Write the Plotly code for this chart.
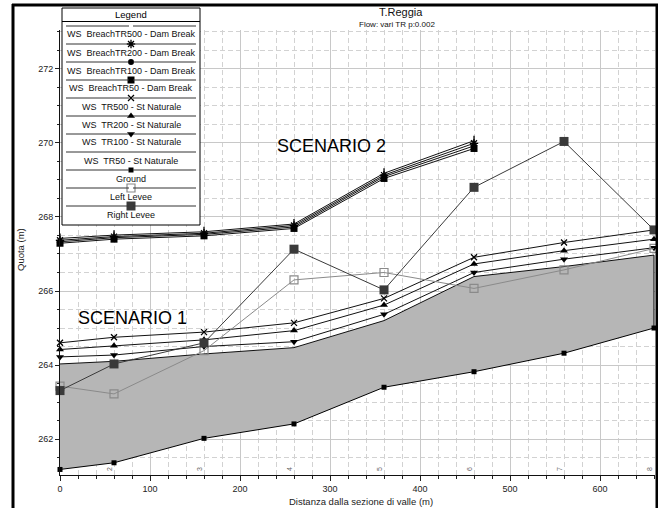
import plotly.graph_objects as go

# ---------------- data ----------------
stations = [0, 60, 160, 260, 360, 460, 560, 660]
section_labels = ["1", "2", "3", "4", "5", "6", "7", "8"]
ground = [261.18, 261.36, 262.02, 262.41, 263.40, 263.82, 264.32, 265.00]
ws_tr50 = [264.03, 264.10, 264.30, 264.47, 265.20, 266.39, 266.66, 266.97]
ws_tr100 = [264.22, 264.27, 264.50, 264.63, 265.37, 266.50, 266.86, 267.17]
ws_tr200 = [264.42, 264.52, 264.68, 264.93, 265.62, 266.73, 267.09, 267.40]
ws_tr500 = [264.60, 264.75, 264.89, 265.14, 265.80, 266.91, 267.31, 267.65]
breach_stations = [0, 60, 160, 260, 360, 460]
breach_tr50 = [267.29, 267.40, 267.49, 267.69, 269.04, 269.85]
breach_tr100 = [267.33, 267.44, 267.53, 267.73, 269.09, 269.92]
breach_tr200 = [267.37, 267.47, 267.56, 267.77, 269.13, 269.99]
breach_tr500 = [267.42, 267.51, 267.60, 267.81, 269.18, 270.06]
left_levee = [263.43, 263.22, 264.39, 266.30, 266.50, 266.07, 266.57, 267.15]
right_levee = [263.31, 264.03, 264.60, 267.13, 266.03, 268.80, 270.04, 267.65]

x_ticks = [0, 100, 200, 300, 400, 500, 600]
y_ticks = [262, 264, 266, 268, 270, 272]

title = "T.Reggia"
subtitle = "Flow: vari TR p:0.002"
x_title = "Distanza dalla sezione di valle (m)"
y_title = "Quota (m)"
legend_title = "Legend"

# ---------------- layout geometry ----------------
W, H = 658, 508
L, R, T, B = 60, 3, 30, 33
X_RANGE = [0, 661.1]
Y_RANGE = [261.03, 273.05]
FONT = "Arial, Liberation Sans, sans-serif"


def px(x):
    return (x - L) / (W - L - R)


def py(y):
    return (H - B - y) / (H - T - B)


def dx(xp):  # pixel -> data x
    return X_RANGE[0] + (xp - L) / (W - L - R) * (X_RANGE[1] - X_RANGE[0])


def dy(yp):  # pixel -> data y
    return Y_RANGE[0] + (H - B - yp) / (H - T - B) * (Y_RANGE[1] - Y_RANGE[0])


BLACK = "#000000"
LINE_W = 1

series = [
    # name, x, y, symbol, size, marker color, marker line, line color
    ("WS  BreachTR500 - Dam Break", breach_stations, breach_tr500, "line-ns", 7, BLACK, 1.3, "#111111"),
    ("WS  BreachTR200 - Dam Break", breach_stations, breach_tr200, "asterisk", 7, BLACK, 1.3, "#111111"),
    ("WS  BreachTR100 - Dam Break", breach_stations, breach_tr100, "circle", 6, BLACK, 0, "#111111"),
    ("WS  BreachTR50 - Dam Break", breach_stations, breach_tr50, "square", 7, BLACK, 0, "#111111"),
    ("WS  TR500 - St Naturale", stations, ws_tr500, "x-thin", 6, BLACK, 1.3, "#111111"),
    ("WS  TR200 - St Naturale", stations, ws_tr200, "triangle-up", 7, BLACK, 0, "#111111"),
    ("WS  TR100 - St Naturale", stations, ws_tr100, "triangle-down", 7, BLACK, 0, "#111111"),
    ("WS  TR50 - St Naturale", stations, ws_tr50, None, 0, BLACK, 0, "#111111"),
    ("Ground", stations, ground, "square", 5, BLACK, 0, BLACK),
    ("Left Levee", stations, left_levee, "square-open", 8, "#8a8a8a", 1.2, "#8a8a8a"),
    ("Right Levee", stations, right_levee, "square", 9, "#3a3a3a", 0, "#3a3a3a"),
]

fig = go.Figure()

# base for water fill (ground) then TR50 filled to it
fig.add_trace(go.Scatter(x=stations, y=ground, mode="lines", line=dict(width=0),
                         hoverinfo="skip", showlegend=False))
fig.add_trace(go.Scatter(x=stations, y=ws_tr50, mode="lines", fill="tonexty",
                         fillcolor="#b6b6b6", line=dict(width=0),
                         hoverinfo="skip", showlegend=False))

draw_order = [7, 6, 5, 4, 9, 10, 8, 3, 2, 1, 0]
for i in draw_order:
    name, xs, ys, sym, size, mcol, mlw, lcol = series[i]
    if sym is None:
        fig.add_trace(go.Scatter(x=xs, y=ys, mode="lines", name=name,
                                 line=dict(color=lcol, width=LINE_W), showlegend=False))
    else:
        fig.add_trace(go.Scatter(
            x=xs, y=ys, mode="lines+markers", name=name,
            line=dict(color=lcol, width=LINE_W),
            marker=dict(symbol=sym, size=size, color=mcol,
                        line=dict(color=mcol, width=mlw)),
            cliponaxis=False, showlegend=False))

# ---------------- legend (drawn manually) ----------------
LEG_X0, LEG_X1 = 62, 200
LEG_Y0, LEG_Y1 = 8, 225
LEG_CX = (LEG_X0 + LEG_X1) / 2
LINE_X0, LINE_X1 = 66, 196
first_line, step, text_off = 26, 18, 8.5

shapes = []
annotations = []

# white background for legend region inside plot (above grid, below traces)
shapes.append(dict(type="rect", xref="x", yref="y", x0=dx(LEG_X0), x1=dx(LEG_X1),
                   y0=dy(LEG_Y1), y1=dy(LEG_Y0), fillcolor="white",
                   line=dict(width=0), layer="between"))
# legend border
shapes.append(dict(type="rect", xref="paper", yref="paper", x0=px(LEG_X0), x1=px(LEG_X1),
                   y0=py(LEG_Y1), y1=py(LEG_Y0), line=dict(color=BLACK, width=1),
                   fillcolor="rgba(0,0,0,0)", layer="above"))
shapes.append(dict(type="line", xref="paper", yref="paper", x0=px(LEG_X0), x1=px(LEG_X1),
                   y0=py(21.5), y1=py(21.5), line=dict(color=BLACK, width=1), layer="above"))
annotations.append(dict(text=legend_title, xref="paper", yref="paper", x=px(LEG_CX), y=py(14.5),
                        xanchor="center", yanchor="middle", showarrow=False,
                        font=dict(size=9.5, color=BLACK, family=FONT)))

for k, (name, xs, ys, sym, size, mcol, mlw, lcol) in enumerate(series):
    ly = first_line + k * step
    gap = 0 if sym is None else 2
    segs = [(LINE_X0, LINE_X1)] if sym is None else [(LINE_X0, LEG_CX - gap), (LEG_CX + gap, LINE_X1)]
    for a, b in segs:
        shapes.append(dict(type="line", xref="paper", yref="paper", x0=px(a), x1=px(b),
                           y0=py(ly), y1=py(ly), line=dict(color="#333333", width=1),
                           layer="above"))
    if sym is not None:
        fig.add_trace(go.Scatter(
            x=[LEG_CX], y=[ly], xaxis="x2", yaxis="y2", mode="markers",
            marker=dict(symbol=sym, size=size, color=mcol, line=dict(color=mcol, width=mlw)),
            cliponaxis=False, hoverinfo="skip", showlegend=False))
    annotations.append(dict(text=name, xref="paper", yref="paper", x=px(LEG_CX), y=py(ly + text_off),
                            xanchor="center", yanchor="middle", showarrow=False,
                            font=dict(size=9, color="#111111", family=FONT)))

# right edge of water area
shapes.append(dict(type="line", xref="x", yref="y", x0=stations[-1], x1=stations[-1],
                   y0=ground[-1], y1=ws_tr50[-1], line=dict(color=BLACK, width=1), layer="above"))

# outer frame
for (x0, y0, x1, y1) in [(13, 4, 13, H + 2), (12, 5, 658, 5), (657, 4, 657, H + 2)]:
    shapes.append(dict(type="line", xref="paper", yref="paper", x0=px(x0), x1=px(x1),
                       y0=py(y0), y1=py(y1), line=dict(color=BLACK, width=3), layer="above"))

# titles
annotations.append(dict(text=title, xref="paper", yref="paper", x=px(401), y=py(12),
                        xanchor="center", yanchor="middle", showarrow=False,
                        font=dict(size=11, color="#111111", family=FONT)))
annotations.append(dict(text=subtitle, xref="paper", yref="paper", x=px(397), y=py(24.5),
                        xanchor="center", yanchor="middle", showarrow=False,
                        font=dict(size=8, color="#111111", family=FONT)))
annotations.append(dict(text=x_title, xref="paper", yref="paper", x=px(361), y=py(501),
                        xanchor="center", yanchor="middle", showarrow=False,
                        font=dict(size=9.5, color="#222222", family=FONT)))
annotations.append(dict(text=y_title, xref="paper", yref="paper", x=px(20), y=py(250),
                        xanchor="center", yanchor="middle", showarrow=False, textangle=-90,
                        font=dict(size=9.5, color="#222222", family=FONT)))
annotations.append(dict(text="SCENARIO 1", xref="paper", yref="paper", x=px(132), y=py(318),
                        xanchor="center", yanchor="middle", showarrow=False,
                        font=dict(size=18, color=BLACK, family=FONT)))
annotations.append(dict(text="SCENARIO 2", xref="paper", yref="paper", x=px(331), y=py(146),
                        xanchor="center", yanchor="middle", showarrow=False,
                        font=dict(size=18, color=BLACK, family=FONT)))

# section numbers along the bottom
for s, lab in zip(stations[1:], section_labels[1:]):
    annotations.append(dict(text=lab, xref="x", yref="paper", x=s, y=0, xshift=-5, yshift=2,
                            xanchor="center", yanchor="bottom", showarrow=False, textangle=-90,
                            font=dict(size=7, color="#666666", family=FONT)))

grid_major = "#c8c8c8"
grid_minor = "#d2d2d2"

fig.update_layout(
    width=W, height=H,
    margin=dict(l=L, r=R, t=T, b=B, pad=0),
    paper_bgcolor="white", plot_bgcolor="white",
    showlegend=False,
    font=dict(family=FONT, size=9, color="#222222"),
    shapes=shapes, annotations=annotations,
    xaxis=dict(range=X_RANGE, tickmode="array", tickvals=x_ticks,
               ticks="outside", ticklen=5, tickcolor="#222222", tickwidth=1,
               showline=True, linecolor="#111111", linewidth=1,
               showgrid=True, gridcolor=grid_major, gridwidth=1, zeroline=False,
               tickfont=dict(size=9, color="#222222"),
               minor=dict(dtick=20, tick0=0, ticks="outside", ticklen=3, tickcolor="#222222",
                          showgrid=True, gridcolor=grid_minor, griddash="5px,3px")),
    yaxis=dict(range=Y_RANGE, tickmode="array", tickvals=y_ticks,
               ticks="outside", ticklen=4, tickcolor="#222222", tickwidth=1,
               showline=True, linecolor="#111111", linewidth=1,
               showgrid=True, gridcolor=grid_major, gridwidth=1, zeroline=False,
               tickfont=dict(size=9, color="#222222"),
               minor=dict(dtick=0.5, tick0=262, ticks="outside", ticklen=2, tickcolor="#222222",
                          showgrid=True, gridcolor=grid_minor, griddash="5px,3px")),
    xaxis2=dict(overlaying="x", range=[L, W - R], visible=False, fixedrange=True),
    yaxis2=dict(overlaying="y", range=[H - B, T], visible=False, fixedrange=True),
)

fig.write_html(
    "out.html",
    config={"displayModeBar": False},
    post_script="document.body.style.margin='0';document.body.style.padding='0';"
                "document.body.style.overflow='hidden';",
)
